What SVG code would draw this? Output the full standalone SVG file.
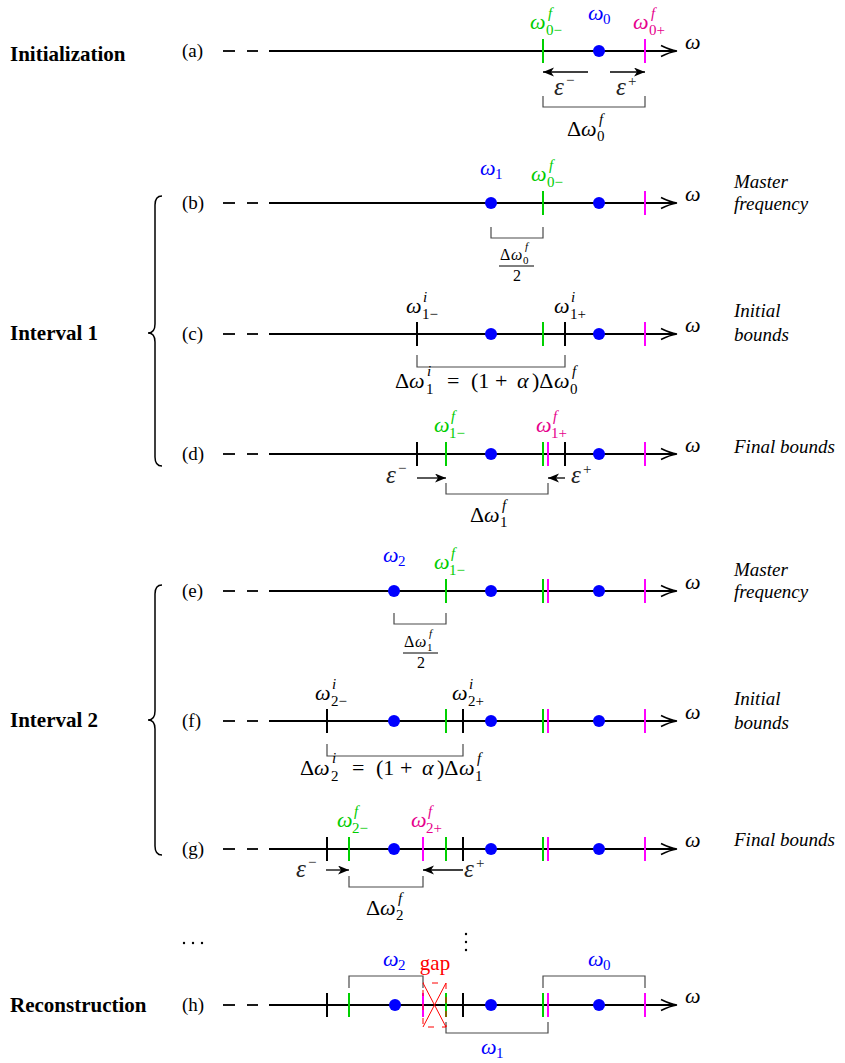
<svg xmlns="http://www.w3.org/2000/svg" width="845" height="1063" viewBox="0 0 845 1063" font-family="'Liberation Serif', 'Times New Roman', serif">
<style>
.ax{stroke:#000;stroke-width:1.8;fill:none}
.hd{stroke:#000;stroke-width:1.5;fill:none}
.tb{stroke:#000;stroke-width:2}
.tg{stroke:#00d000;stroke-width:2}
.tm{stroke:#ff00ff;stroke-width:2}
.dot{fill:#0000ff}
.br{stroke:#4a4a4a;stroke-width:1.2;fill:none}
.ea{stroke:#000;stroke-width:1.3;marker-end:url(#ah)}
.brace{stroke:#000;stroke-width:1.5;fill:none}
.lab{font-family:'Liberation Serif',serif;font-size:19px}
.bold{font-family:'Liberation Serif',serif;font-size:21px;font-weight:bold}
.itl{font-family:'Liberation Serif',serif;font-size:19px;font-style:italic}
.w{font-family:'Liberation Serif',serif;font-size:22px;font-style:italic}
.e{font-family:'Liberation Serif',serif;font-size:25px;font-style:italic}
.u{font-family:'Liberation Serif',serif;font-size:22px}
.sb{font-family:'Liberation Serif',serif;font-size:15px}
.sp{font-family:'Liberation Serif',serif;font-size:15px;font-style:italic}
.fw{font-family:'Liberation Serif',serif;font-size:16px;font-style:italic}
.fu{font-family:'Liberation Serif',serif;font-size:16px}
.fs{font-family:'Liberation Serif',serif;font-size:11px}
.fsi{font-family:'Liberation Serif',serif;font-size:11px;font-style:italic}
.g{fill:#00cc00}
.mg{fill:#e6008c}
.bl{fill:#0000ff}
.rd{fill:#ff0000}
.ep{fill:#222}
</style>
<defs>
<marker id="ah" markerUnits="userSpaceOnUse" markerWidth="12" markerHeight="10" refX="11" refY="4.5" orient="auto">
<path d="M0,0 L11,4.5 L0,9 L3,4.5 z" fill="#000"/>
</marker>
</defs>

<!-- left labels -->
<g id="stage-labels">
<text class="bold" x="10" y="61">Initialization</text>
<text class="bold" x="10" y="340">Interval 1</text>
<text class="bold" x="10" y="727">Interval 2</text>
<text class="bold" x="10" y="1012">Reconstruction</text>
<path class="brace" d="M162,196 Q155,196 155,205 L155,324 Q155,333 148,333 Q155,333 155,342 L155,457 Q155,466 162,466"/>
<path class="brace" d="M162,585 Q155,585 155,594 L155,711 Q155,720 148,720 Q155,720 155,729 L155,846 Q155,855 162,855"/>
<circle cx="184" cy="943" r="1.2"/>
<circle cx="193" cy="943" r="1.2"/>
<circle cx="202" cy="943" r="1.2"/>
<circle cx="466" cy="934" r="1.2"/>
<circle cx="466" cy="942" r="1.2"/>
<circle cx="466" cy="950" r="1.2"/>
</g>

<!-- right labels -->
<g id="step-labels">
<text class="itl" x="734" y="188">Master</text>
<text class="itl" x="734" y="210">frequency</text>
<text class="itl" x="734" y="317">Initial</text>
<text class="itl" x="734" y="341">bounds</text>
<text class="itl" x="734" y="453">Final bounds</text>
<text class="itl" x="734" y="576">Master</text>
<text class="itl" x="734" y="598">frequency</text>
<text class="itl" x="734" y="705">Initial</text>
<text class="itl" x="734" y="729">bounds</text>
<text class="itl" x="734" y="846">Final bounds</text>
</g>

<!-- row a -->
<g id="row-a">
<text class="lab" x="182" y="57">(a)</text>
<line class="ax" x1="223" y1="51" x2="235" y2="51"/><line class="ax" x1="247" y1="51" x2="258" y2="51"/><line class="ax" x1="269" y1="51" x2="676" y2="51"/>
<path class="hd" d="M661,45.5 Q670,50 677,51 Q670,52 661,56.5"/>
<text class="w" x="685" y="49">ω</text>
<line class="tg" x1="543" y1="39" x2="543" y2="63"/>
<circle class="dot" cx="599" cy="51" r="6"/>
<line class="tm" x1="645" y1="39" x2="645" y2="63"/>
<text class="w g" x="530" y="29">ω</text><text class="sp g" x="548" y="18">f</text><text class="sb g" x="546" y="35">0−</text>
<text class="w bl" x="588" y="20">ω</text><text class="sb bl" x="603" y="24">0</text>
<text class="w mg" x="633" y="29">ω</text><text class="sp mg" x="651" y="18">f</text><text class="sb mg" x="649" y="35">0+</text>
<line class="ea" x1="588" y1="72" x2="543" y2="72"/>
<line class="ea" x1="610" y1="72" x2="645" y2="72"/>
<text class="e ep" x="554" y="95">ε</text><text class="sb ep" x="566" y="85">−</text>
<text class="e ep" x="616" y="95">ε</text><text class="sb ep" x="628" y="86">+</text>
<path class="br" d="M543,96 V107 H645 V96"/>
<text class="u" x="567" y="136">Δ</text><text class="w" x="581" y="136">ω</text><text class="sb" x="597" y="141">0</text><text class="sp" x="599" y="124">f</text>
</g>

<!-- row b -->
<g id="row-b">
<text class="lab" x="182" y="209">(b)</text>
<line class="ax" x1="223" y1="203" x2="235" y2="203"/><line class="ax" x1="247" y1="203" x2="258" y2="203"/><line class="ax" x1="269" y1="203" x2="676" y2="203"/>
<path class="hd" d="M661,197.5 Q670,202 677,203 Q670,204 661,208.5"/>
<text class="w" x="685" y="201">ω</text>
<circle class="dot" cx="491" cy="203" r="6"/>
<line class="tg" x1="543" y1="191" x2="543" y2="215"/>
<circle class="dot" cx="599" cy="203" r="6"/>
<line class="tm" x1="645" y1="191" x2="645" y2="215"/>
<text class="w bl" x="480" y="175">ω</text><text class="sb bl" x="495" y="179">1</text>
<text class="w g" x="531" y="181">ω</text><text class="sp g" x="549" y="170">f</text><text class="sb g" x="547" y="187">0−</text>
<path class="br" d="M491,227 V238 H543 V227"/>
<text class="fu" x="500" y="260">Δ</text><text class="fw" x="511" y="260">ω</text><text class="fs" x="523" y="264">0</text><text class="fsi" x="525" y="250">f</text>
<line x1="499" y1="266" x2="534" y2="266" stroke="#000" stroke-width="1"/>
<text class="fu" x="517" y="281" text-anchor="middle">2</text>
</g>

<!-- row c -->
<g id="row-c">
<text class="lab" x="182" y="340">(c)</text>
<line class="ax" x1="223" y1="334" x2="235" y2="334"/><line class="ax" x1="247" y1="334" x2="258" y2="334"/><line class="ax" x1="269" y1="334" x2="676" y2="334"/>
<path class="hd" d="M661,328.5 Q670,333 677,334 Q670,335 661,339.5"/>
<text class="w" x="685" y="332">ω</text>
<line class="tb" x1="417" y1="322" x2="417" y2="346"/>
<circle class="dot" cx="491" cy="334" r="6"/>
<line class="tg" x1="543" y1="322" x2="543" y2="346"/>
<line class="tb" x1="565" y1="322" x2="565" y2="346"/>
<circle class="dot" cx="599" cy="334" r="6"/>
<line class="tm" x1="645" y1="322" x2="645" y2="346"/>
<text class="w" x="406" y="313">ω</text><text class="sp" x="423" y="302">i</text><text class="sb" x="422" y="319">1−</text>
<text class="w" x="554" y="313">ω</text><text class="sp" x="571" y="302">i</text><text class="sb" x="570" y="319">1+</text>
<path class="br" d="M417,355 V367 H565 V355"/>
<text class="u" x="395" y="388">Δ</text><text class="w" x="409" y="388">ω</text><text class="sb" x="426" y="394">1</text><text class="sp" x="427" y="376">i</text>
<text class="u" x="447" y="388">=</text><text class="u" x="471" y="388">(1</text><text class="u" x="495" y="388">+</text><text class="w" x="517" y="388">α</text><text class="u" x="532" y="388">)Δ</text><text class="w" x="554" y="388">ω</text><text class="sb" x="570" y="394">0</text><text class="sp" x="572" y="376">f</text>
</g>

<!-- row d -->
<g id="row-d">
<text class="lab" x="182" y="460">(d)</text>
<line class="ax" x1="223" y1="454" x2="235" y2="454"/><line class="ax" x1="247" y1="454" x2="258" y2="454"/><line class="ax" x1="269" y1="454" x2="676" y2="454"/>
<path class="hd" d="M661,448.5 Q670,453 677,454 Q670,455 661,459.5"/>
<text class="w" x="685" y="452">ω</text>
<line class="tb" x1="417" y1="442" x2="417" y2="466"/>
<line class="tg" x1="446" y1="442" x2="446" y2="466"/>
<circle class="dot" cx="491" cy="454" r="6"/>
<line class="tg" x1="543" y1="442" x2="543" y2="466"/>
<line class="tm" x1="548" y1="442" x2="548" y2="466"/>
<line class="tb" x1="565" y1="442" x2="565" y2="466"/>
<circle class="dot" cx="599" cy="454" r="6"/>
<line class="tm" x1="645" y1="442" x2="645" y2="466"/>
<text class="w g" x="434" y="432">ω</text><text class="sp g" x="451" y="421">f</text><text class="sb g" x="449" y="438">1−</text>
<text class="w mg" x="536" y="432">ω</text><text class="sp mg" x="553" y="421">f</text><text class="sb mg" x="551" y="438">1+</text>
<line class="ea" x1="417" y1="478" x2="446" y2="478"/>
<line class="ea" x1="565" y1="478" x2="548" y2="478"/>
<text class="e ep" x="386" y="483">ε</text><text class="sb ep" x="398" y="473">−</text>
<text class="e ep" x="571" y="483">ε</text><text class="sb ep" x="583" y="474">+</text>
<path class="br" d="M446,483 V494 H548 V483"/>
<text class="u" x="470" y="522">Δ</text><text class="w" x="484" y="522">ω</text><text class="sb" x="500" y="527">1</text><text class="sp" x="502" y="510">f</text>
</g>

<!-- row e -->
<g id="row-e">
<text class="lab" x="182" y="597">(e)</text>
<line class="ax" x1="223" y1="591" x2="235" y2="591"/><line class="ax" x1="247" y1="591" x2="258" y2="591"/><line class="ax" x1="269" y1="591" x2="676" y2="591"/>
<path class="hd" d="M661,585.5 Q670,590 677,591 Q670,592 661,596.5"/>
<text class="w" x="685" y="589">ω</text>
<circle class="dot" cx="394" cy="591" r="6"/>
<line class="tg" x1="446" y1="579" x2="446" y2="603"/>
<circle class="dot" cx="491" cy="591" r="6"/>
<line class="tg" x1="543" y1="579" x2="543" y2="603"/>
<line class="tm" x1="548" y1="579" x2="548" y2="603"/>
<circle class="dot" cx="599" cy="591" r="6"/>
<line class="tm" x1="645" y1="579" x2="645" y2="603"/>
<text class="w bl" x="383" y="562">ω</text><text class="sb bl" x="398" y="566">2</text>
<text class="w g" x="434" y="569">ω</text><text class="sp g" x="451" y="558">f</text><text class="sb g" x="449" y="575">1−</text>
<path class="br" d="M394,613 V624 H446 V613"/>
<text class="fu" x="404" y="647">Δ</text><text class="fw" x="415" y="647">ω</text><text class="fs" x="427" y="651">1</text><text class="fsi" x="429" y="637">f</text>
<line x1="403" y1="653" x2="438" y2="653" stroke="#000" stroke-width="1"/>
<text class="fu" x="421" y="668" text-anchor="middle">2</text>
</g>

<!-- row f -->
<g id="row-f">
<text class="lab" x="182" y="727">(f)</text>
<line class="ax" x1="223" y1="721" x2="235" y2="721"/><line class="ax" x1="247" y1="721" x2="258" y2="721"/><line class="ax" x1="269" y1="721" x2="676" y2="721"/>
<path class="hd" d="M661,715.5 Q670,720 677,721 Q670,722 661,726.5"/>
<text class="w" x="685" y="719">ω</text>
<line class="tb" x1="327" y1="709" x2="327" y2="733"/>
<circle class="dot" cx="394" cy="721" r="6"/>
<line class="tg" x1="446" y1="709" x2="446" y2="733"/>
<line class="tb" x1="463" y1="709" x2="463" y2="733"/>
<circle class="dot" cx="491" cy="721" r="6"/>
<line class="tg" x1="543" y1="709" x2="543" y2="733"/>
<line class="tm" x1="548" y1="709" x2="548" y2="733"/>
<circle class="dot" cx="599" cy="721" r="6"/>
<line class="tm" x1="645" y1="709" x2="645" y2="733"/>
<text class="w" x="315" y="700">ω</text><text class="sp" x="332" y="689">i</text><text class="sb" x="331" y="706">2−</text>
<text class="w" x="452" y="700">ω</text><text class="sp" x="469" y="689">i</text><text class="sb" x="468" y="706">2+</text>
<path class="br" d="M327,744 V756 H463 V744"/>
<text class="u" x="300" y="775">Δ</text><text class="w" x="314" y="775">ω</text><text class="sb" x="331" y="781">2</text><text class="sp" x="332" y="763">i</text>
<text class="u" x="352" y="775">=</text><text class="u" x="376" y="775">(1</text><text class="u" x="400" y="775">+</text><text class="w" x="422" y="775">α</text><text class="u" x="437" y="775">)Δ</text><text class="w" x="459" y="775">ω</text><text class="sb" x="475" y="781">1</text><text class="sp" x="477" y="763">f</text>
</g>

<!-- row g -->
<g id="row-g">
<text class="lab" x="182" y="855">(g)</text>
<line class="ax" x1="223" y1="849" x2="235" y2="849"/><line class="ax" x1="247" y1="849" x2="258" y2="849"/><line class="ax" x1="269" y1="849" x2="676" y2="849"/>
<path class="hd" d="M661,843.5 Q670,848 677,849 Q670,850 661,854.5"/>
<text class="w" x="685" y="847">ω</text>
<line class="tb" x1="327" y1="837" x2="327" y2="861"/>
<line class="tg" x1="349" y1="837" x2="349" y2="861"/>
<circle class="dot" cx="394" cy="849" r="6"/>
<line class="tm" x1="423" y1="837" x2="423" y2="861"/>
<line class="tg" x1="446" y1="837" x2="446" y2="861"/>
<line class="tb" x1="463" y1="837" x2="463" y2="861"/>
<circle class="dot" cx="491" cy="849" r="6"/>
<line class="tg" x1="543" y1="837" x2="543" y2="861"/>
<line class="tm" x1="548" y1="837" x2="548" y2="861"/>
<circle class="dot" cx="599" cy="849" r="6"/>
<line class="tm" x1="645" y1="837" x2="645" y2="861"/>
<text class="w g" x="337" y="827">ω</text><text class="sp g" x="354" y="816">f</text><text class="sb g" x="352" y="833">2−</text>
<text class="w mg" x="411" y="827">ω</text><text class="sp mg" x="428" y="816">f</text><text class="sb mg" x="426" y="833">2+</text>
<line class="ea" x1="326" y1="870" x2="349" y2="870"/>
<line class="ea" x1="463" y1="870" x2="423" y2="870"/>
<text class="e ep" x="296" y="877">ε</text><text class="sb ep" x="308" y="867">−</text>
<text class="e ep" x="464" y="877">ε</text><text class="sb ep" x="476" y="868">+</text>
<path class="br" d="M349,876 V887 H423 V876"/>
<text class="u" x="366" y="915">Δ</text><text class="w" x="380" y="915">ω</text><text class="sb" x="396" y="920">2</text><text class="sp" x="398" y="903">f</text>
</g>

<!-- row h -->
<g id="row-h">
<text class="lab" x="182" y="1011">(h)</text>
<line class="ax" x1="223" y1="1005" x2="235" y2="1005"/><line class="ax" x1="247" y1="1005" x2="258" y2="1005"/><line class="ax" x1="269" y1="1005" x2="676" y2="1005"/>
<path class="hd" d="M661,999.5 Q670,1004 677,1005 Q670,1006 661,1010.5"/>
<text class="w" x="685" y="1003">ω</text>
<line class="tb" x1="327" y1="993" x2="327" y2="1017"/>
<line class="tg" x1="349" y1="993" x2="349" y2="1017"/>
<circle class="dot" cx="395" cy="1005" r="6"/>
<line class="tm" x1="423" y1="993" x2="423" y2="1017"/>
<line class="tg" x1="446" y1="993" x2="446" y2="1017"/>
<line class="tb" x1="463" y1="993" x2="463" y2="1017"/>
<circle class="dot" cx="491" cy="1005" r="6"/>
<line class="tg" x1="543" y1="993" x2="543" y2="1017"/>
<line class="tm" x1="548" y1="993" x2="548" y2="1017"/>
<circle class="dot" cx="599" cy="1005" r="6"/>
<line class="tm" x1="645" y1="993" x2="645" y2="1017"/>
<path class="br" d="M349,988 V976 H423 V988"/>
<path class="br" d="M543,988 V976 H645 V988"/>
<path class="br" d="M446,1022 V1033 H548 V1022"/>
<text class="w bl" x="383" y="966">ω</text><text class="sb bl" x="398" y="970">2</text>
<text class="w bl" x="588" y="966">ω</text><text class="sb bl" x="603" y="970">0</text>
<text class="w bl" x="481" y="1054">ω</text><text class="sb bl" x="496" y="1058">1</text>
<text class="rd" x="435" y="970" font-size="21" text-anchor="middle">gap</text>
<rect x="423" y="983" width="23" height="44" fill="none" stroke="#ff0000" stroke-width="1" stroke-dasharray="6 8" stroke-dashoffset="5"/>
<path d="M423,983 L446,1027 M446,983 L423,1027" stroke="#ff0000" stroke-width="1" fill="none"/>
</g>
</svg>
